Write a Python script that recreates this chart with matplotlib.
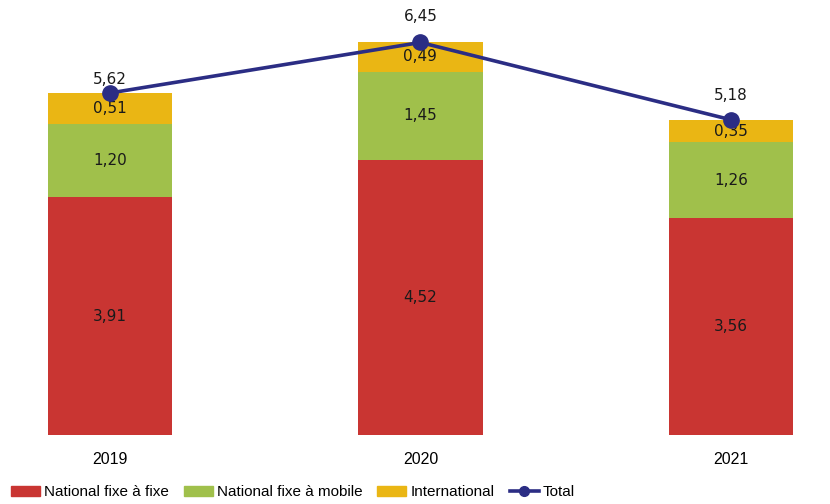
import matplotlib.pyplot as plt
from matplotlib.patches import Patch
from matplotlib.lines import Line2D
import numpy as np

years = ['2019', '2020', '2021']
fixe_fixe = [3.91, 4.52, 3.56]
fixe_mobile = [1.20, 1.45, 1.26]
international = [0.51, 0.49, 0.35]
total = [5.62, 6.45, 5.18]

c_red = '#C93532'
c_green = '#A0C04B'
c_yellow = '#EAB614'
c_navy = '#2B2D84'

narrow = ['Liberation Sans Narrow', 'Liberation Sans', 'DejaVu Sans']

fig = plt.figure(figsize=(8.3, 5.04), dpi=100)
ax = fig.add_axes([0, 69 / 504, 1, 426 / 504])

x = np.arange(len(years))
w = 0.40
b1 = ax.bar(x, fixe_fixe, w, color=c_red)
bottom2 = np.array(fixe_fixe)
b2 = ax.bar(x, fixe_mobile, w, bottom=bottom2, color=c_green)
bottom3 = bottom2 + np.array(fixe_mobile)
b3 = ax.bar(x, international, w, bottom=bottom3, color=c_yellow)

for vals, bots in [(fixe_fixe, np.zeros(3)), (fixe_mobile, bottom2), (international, bottom3)]:
    for xi, v, b in zip(x, vals, bots):
        ax.text(xi, b + v / 2, f'{v:.2f}'.replace('.', ','), ha='center', va='center',
                fontsize=11, color='#1a1a1a')

ax.plot(x, total, color=c_navy, lw=2.6, marker='o', ms=11, zorder=5)
offsets = [13, 26, 24]
for xi, t, off in zip(x, total, offsets):
    ax.annotate(f'{t:.2f}'.replace('.', ','), (xi, t), xytext=(0, off * 0.72),
                textcoords='offset points', ha='center', va='center', fontsize=11,
                color='#1a1a1a')

ax.set_xlim(-0.354, 2.319)
ax.set_ylim(0, 7.0)
ax.set_xticks(x)
ax.set_xticklabels(years, family=narrow, fontsize=11.5)
ax.tick_params(length=0, pad=12)
ax.set_yticks([])
for s in ax.spines.values():
    s.set_visible(False)

handles = [Patch(color=c_red), Patch(color=c_green), Patch(color=c_yellow),
           Line2D([], [], color=c_navy, lw=2.6, marker='o', ms=7)]
labels = ['National fixe à fixe', 'National fixe à mobile', 'International', 'Total']
fig.legend(handles, labels, loc='lower left', bbox_to_anchor=(0.0, -0.012), ncol=4,
           frameon=False, prop={'family': narrow, 'size': 11}, handlelength=1.9,
           handletextpad=0.25, columnspacing=1.0, borderaxespad=0.3)

fig.savefig('out.png', dpi=100)
